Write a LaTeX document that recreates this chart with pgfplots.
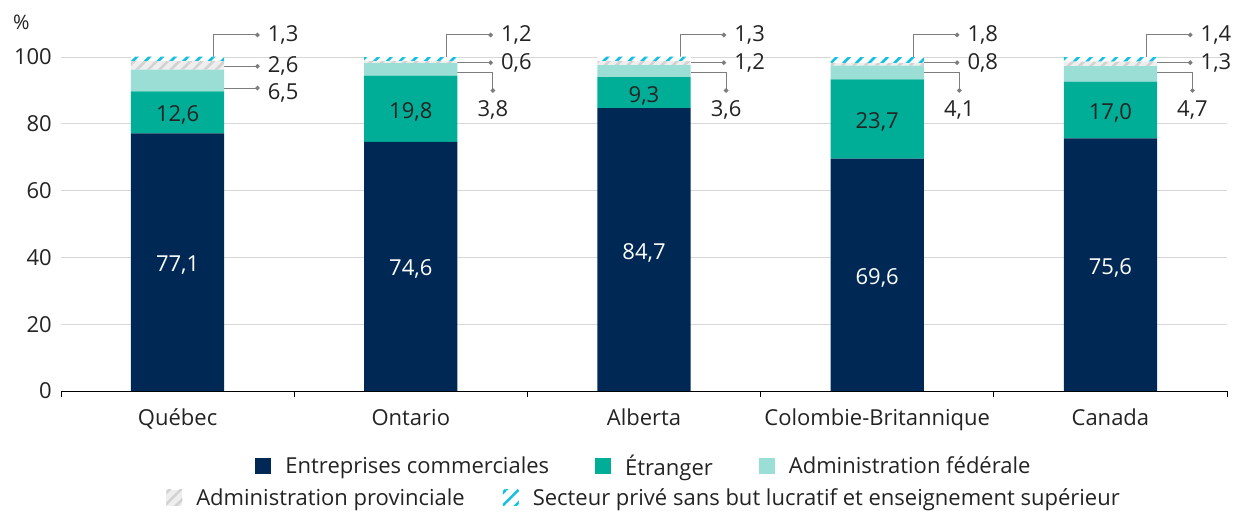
\documentclass[border=0pt]{standalone}
\usepackage{fontspec}
\setmainfont{Open Sans}
\usepackage{pgfplots}
\pgfplotsset{compat=1.18}
\usepackage{pgfplotstable}
\usetikzlibrary{patterns.meta, arrows.meta}
\definecolor{navy}{RGB}{0,40,85}
\definecolor{teal1}{RGB}{0,174,152}
\definecolor{lteal}{RGB}{154,222,214}
\definecolor{hgray}{RGB}{210,210,210}
\definecolor{hbg}{RGB}{238,238,238}
\definecolor{cyan1}{RGB}{20,192,225}
\definecolor{txt}{RGB}{35,35,35}
\definecolor{lead}{RGB}{125,125,125}
\definecolor{gridc}{RGB}{215,215,215}

\pgfplotstableread{
x ent etr fed prov sect
0 77.1 12.6 6.5 2.6 1.3
1 74.6 19.8 3.8 0.6 1.2
2 84.7 9.3 3.6 1.2 1.3
3 69.6 23.7 4.1 0.8 1.8
4 75.6 17.0 4.7 1.3 1.4
}\data

\tikzset{
  provpat/.style={draw=none, fill=hbg, postaction={draw=none, pattern={Lines[angle=45,distance=8pt,line width=2.6pt]}, pattern color=hgray}},
  sectpat/.style={draw=none, fill=white, postaction={draw=none, pattern={Lines[angle=45,distance=9pt,line width=2.6pt]}, pattern color=cyan1}},
  callout/.style={draw=lead, line width=1pt, -{Circle[length=4.5pt]}},
  clab/.style={anchor=west, inner sep=0pt, xshift=8pt},
}

\begin{document}
\begin{tikzpicture}[font=\fontsize{22}{26}\selectfont, text=txt]
\path (-61pt,-121pt) rectangle (1183pt,391pt);
\begin{axis}[
  scale only axis, width=1166pt, height=334pt,
  xmin=-0.5, xmax=4.5, ymin=0, ymax=100,
  ybar stacked, bar width=0.4,
  clip=false,
  axis lines*=left,
  axis line style={-},
  y axis line style={draw=none},
  x axis line style={line width=1pt, black},
  ytick={0,20,...,100},
  /pgf/number format/assume math mode=true,
  ymajorgrids, grid style={draw=gridc, line width=0.9pt},
  xtick={0,...,4},
  xticklabels={Québec,Ontario,Alberta,Colombie-Britannique,Canada},
  major tick length=0pt,
  minor xtick={-0.5,0.5,...,4.5},
  minor tick length=6pt,
  tick align=outside,
  minor x tick style={draw=black, line width=0.8pt},
  major tick style={draw=none},
  tick label style={font=\fontsize{22}{26}\selectfont, text=txt},
  yticklabel style={anchor=east, inner sep=0pt, xshift=-9pt},
  xticklabel style={anchor=base, inner sep=0pt, yshift=-34pt},
  legend columns=3,
  legend cell align=left,
  legend style={draw=none, fill=none, at={(0.5,-0.2246)}, anchor=center,
    font=\fontsize{22}{26}\selectfont,
    /tikz/every odd column/.append style={column sep=12pt},
    /tikz/every even column/.append style={column sep=44pt}},
  legend image code/.code={\fill[#1] (0pt,-8pt) rectangle (16pt,8pt);},
]
\addplot[fill=navy, draw=none,
  nodes near coords={\pgfmathprintnumber[fixed,fixed zerofill,precision=1,use comma,assume math mode=true]{\pgfplotspointmeta}},
  every node near coord/.append style={anchor=center, text=white, font=\fontsize{22}{26}\selectfont, yshift=-3pt},
  point meta=explicit]
  table[x=x, y=ent, meta=ent]{\data};
\addplot[fill=teal1, draw=none,
  nodes near coords={\pgfmathprintnumber[fixed,fixed zerofill,precision=1,use comma,assume math mode=true]{\pgfplotspointmeta}},
  every node near coord/.append style={anchor=center, text=txt, font=\fontsize{22}{26}\selectfont, yshift=-3pt},
  point meta=explicit]
  table[x=x, y=etr, meta=etr]{\data};
\addplot[fill=lteal, draw=none] table[x=x, y=fed]{\data};
\addplot[provpat] table[x=x, y=prov]{\data};
\addplot[sectpat] table[x=x, y=sect]{\data};
\legend{Entreprises commerciales, Étranger, Administration fédérale}

% percent sign
\node[anchor=west, inner sep=0pt, font=\fontsize{20}{24}\selectfont] at (axis cs:-0.5,110.3) [xshift=-48pt] {\%};

% Québec
\draw[callout] (axis cs:0.155,100) |- (axis cs:0.352,106.6);
\node[clab] at (axis cs:0.352,106.6) {1,3};
\draw[callout] (axis cs:0.2,97.2) -- (axis cs:0.352,97.2);
\node[clab] at (axis cs:0.352,97.2) {2,6};
\draw[callout] (axis cs:0.2,90.7) -- (axis cs:0.352,90.7);
\node[clab, yshift=-5pt] at (axis cs:0.352,90.7) {6,5};
% Ontario
\draw[callout] (axis cs:1.155,100) |- (axis cs:1.352,106.6);
\node[clab] at (axis cs:1.352,106.6) {1,2};
\draw[callout] (axis cs:1.2,98.3) -- (axis cs:1.352,98.3);
\node[clab] at (axis cs:1.352,98.3) {0,6};
\draw[callout] (axis cs:1.2,95.4) -| (axis cs:1.352,89.3);
\node[inner sep=0pt] at (axis cs:1.352,84.1) {3,8};
% Alberta
\draw[callout] (axis cs:2.155,100) |- (axis cs:2.352,106.6);
\node[clab] at (axis cs:2.352,106.6) {1,3};
\draw[callout] (axis cs:2.2,98.3) -- (axis cs:2.352,98.3);
\node[clab] at (axis cs:2.352,98.3) {1,2};
\draw[callout] (axis cs:2.2,95.4) -| (axis cs:2.352,89.3);
\node[inner sep=0pt] at (axis cs:2.352,84.1) {3,6};
% Colombie-Britannique
\draw[callout] (axis cs:3.155,100) |- (axis cs:3.352,106.6);
\node[clab] at (axis cs:3.352,106.6) {1,8};
\draw[callout] (axis cs:3.2,98.3) -- (axis cs:3.352,98.3);
\node[clab] at (axis cs:3.352,98.3) {0,8};
\draw[callout] (axis cs:3.2,95.4) -| (axis cs:3.352,89.3);
\node[inner sep=0pt] at (axis cs:3.352,84.1) {4,1};
% Canada
\draw[callout] (axis cs:4.155,100) |- (axis cs:4.352,106.6);
\node[clab] at (axis cs:4.352,106.6) {1,4};
\draw[callout] (axis cs:4.2,98.3) -- (axis cs:4.352,98.3);
\node[clab] at (axis cs:4.352,98.3) {1,3};
\draw[callout] (axis cs:4.2,95.4) -| (axis cs:4.352,89.3);
\node[inner sep=0pt] at (axis cs:4.352,84.1) {4,7};
\end{axis}

\begin{axis}[
  scale only axis, width=1166pt, height=334pt,
  hide axis, xmin=0, xmax=1, ymin=0, ymax=1,
  legend columns=2,
  legend cell align=left,
  legend style={draw=none, fill=none, at={(0.5,-0.320)}, anchor=center,
    font=\fontsize{22}{26}\selectfont,
    /tikz/every odd column/.append style={column sep=12pt},
    /tikz/every even column/.append style={column sep=36pt}},
  legend image code/.code={\fill[#1] (0pt,-8pt) rectangle (16pt,8pt);},
]
\addlegendimage{provpat, mark=none}
\addlegendentry{Administration provinciale}
\addlegendimage{sectpat, mark=none}
\addlegendentry{Secteur privé sans but lucratif et enseignement supérieur}
\end{axis}
\end{tikzpicture}
\end{document}
